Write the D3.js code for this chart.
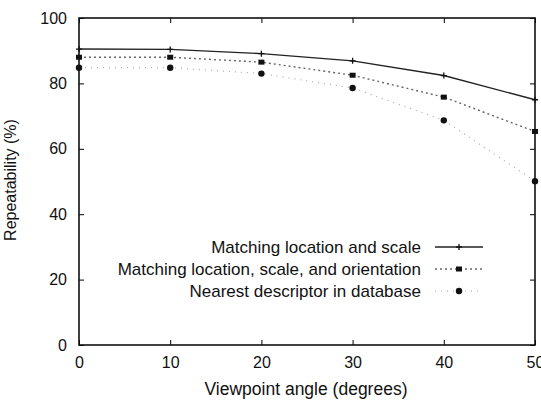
<!DOCTYPE html>
<html>
<head>
<meta charset="utf-8">
<script src="https://cdn.jsdelivr.net/npm/d3@7"></script>
<style>
  body { margin: 0; background: #fff; }
  text { font-family: "Liberation Sans", Arial, sans-serif; fill: #111; }
</style>
</head>
<body>
<div id="chart"></div>
<script>
const angles = [0, 10, 20, 30, 40, 50];
const scaleOnly = [90.5, 90.4, 89.1, 86.9, 82.4, 75.0];
const withOrientation = [88.0, 88.0, 86.5, 82.5, 75.8, 65.3];
const nearestDescriptor = [84.8, 84.8, 83.0, 78.6, 68.7, 50.1];
const seriesNames = ["Matching location and scale", "Matching location, scale, and orientation", "Nearest descriptor in database"];
const xTicks = [0, 10, 20, 30, 40, 50];
const yTicks = [0, 20, 40, 60, 80, 100];

const margin = { top: 18, right: 6, bottom: 57, left: 79 },
    width = 541 - margin.left - margin.right,
    height = 402 - margin.top - margin.bottom;

const svg = d3.select("#chart").append("svg")
    .attr("width", 541)
    .attr("height", 402);

const g = svg.append("g").attr("transform", "translate(" + margin.left + "," + margin.top + ")");

const x = d3.scaleLinear().domain([0, 50]).range([0, width]);
const y = d3.scaleLinear().domain([0, 100]).range([height, 0]);

// ticks pointing inward on all four sides, gnuplot style
g.append("g").attr("transform", "translate(0," + height + ")")
    .call(d3.axisBottom(x).tickValues(xTicks).tickSizeInner(-5).tickSizeOuter(0).tickPadding(12))
    .call(a => a.select(".domain").remove())
    .selectAll("text").style("font-size", "16px");
g.append("g")
    .call(d3.axisTop(x).tickValues(xTicks).tickSizeInner(-5).tickSizeOuter(0).tickFormat(""))
    .call(a => a.select(".domain").remove());
g.append("g")
    .call(d3.axisLeft(y).tickValues(yTicks).tickSizeInner(-5).tickSizeOuter(0).tickPadding(12))
    .call(a => a.select(".domain").remove())
    .selectAll("text").style("font-size", "16px");
g.append("g").attr("transform", "translate(" + width + ",0)")
    .call(d3.axisRight(y).tickValues(yTicks).tickSizeInner(-5).tickSizeOuter(0).tickFormat(""))
    .call(a => a.select(".domain").remove());

g.append("rect")
    .attr("width", width).attr("height", height)
    .attr("fill", "none").attr("stroke", "#111").attr("stroke-width", 1.6);

const series = [
    { name: seriesNames[0], values: scaleOnly, color: "#222", width: 1.4, dash: null, marker: "plus" },
    { name: seriesNames[1], values: withOrientation, color: "#666", width: 1.4, dash: "2,3", marker: "square" },
    { name: seriesNames[2], values: nearestDescriptor, color: "#aaa", width: 1.2, dash: "1,5", marker: "dot" }
];

const line = d3.line().x((d, i) => x(angles[i])).y(d => y(d));

function drawMarker(sel, kind, cx, cy) {
    if (kind === "plus") {
        sel.append("path").attr("d", "M" + (cx - 3) + "," + cy + "h6M" + cx + "," + (cy - 3) + "v6")
            .attr("stroke", "#111").attr("stroke-width", 1.3);
    } else if (kind === "square") {
        sel.append("rect").attr("x", cx - 3).attr("y", cy - 2.5).attr("width", 6).attr("height", 5).attr("fill", "#111");
    } else {
        sel.append("circle").attr("cx", cx).attr("cy", cy).attr("r", 3.2).attr("fill", "#111");
    }
}

const plot = g.append("g");
series.forEach(s => {
    plot.append("path").datum(s.values)
        .attr("d", line)
        .attr("fill", "none")
        .attr("stroke", s.color)
        .attr("stroke-width", s.width)
        .attr("stroke-dasharray", s.dash);
    s.values.forEach((v, i) => drawMarker(plot, s.marker, x(angles[i]), y(v)));
});

// legend
const legend = svg.append("g");
series.forEach((s, i) => {
    const ly = 247 + i * 22;
    legend.append("text").attr("x", 421).attr("y", ly).attr("dy", "0.35em")
        .attr("text-anchor", "end").style("font-size", "17px").text(s.name);
    legend.append("line").attr("x1", 435).attr("x2", 483).attr("y1", ly).attr("y2", ly)
        .attr("stroke", s.color).attr("stroke-width", s.width).attr("stroke-dasharray", s.dash);
    drawMarker(legend, s.marker, 459, ly);
});

svg.append("text").attr("x", 306).attr("y", 389).attr("dy", "0.35em")
    .attr("text-anchor", "middle").style("font-size", "17.5px").text("Viewpoint angle (degrees)");
svg.append("text").attr("transform", "translate(10,180) rotate(-90)").attr("dy", "0.35em")
    .attr("text-anchor", "middle").style("font-size", "16px").text("Repeatability (%)");
</script>
</body>
</html>
